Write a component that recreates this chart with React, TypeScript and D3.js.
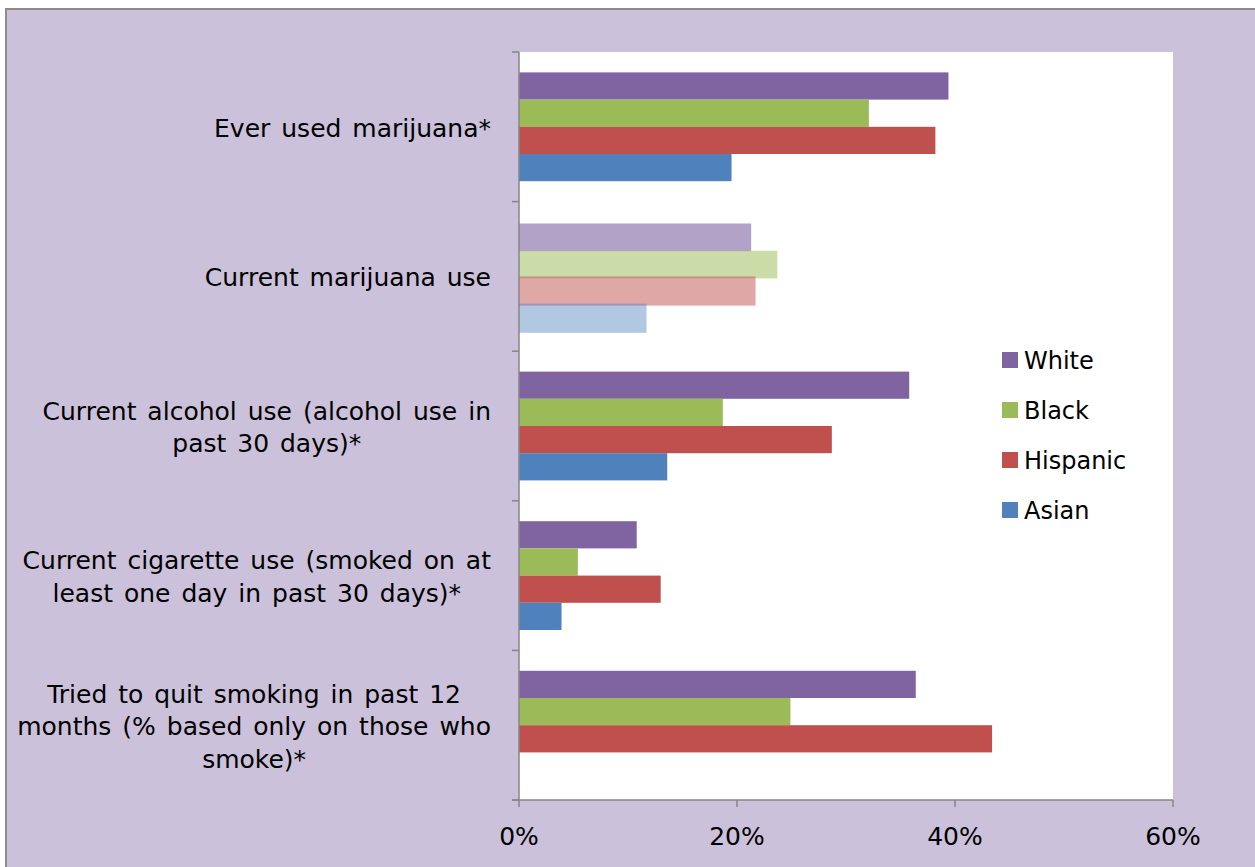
import React, { useEffect, useRef } from "react";
import * as d3 from "d3";

const categories = [
  ["Ever used marijuana*"],
  ["Current marijuana use"],
  ["Current alcohol use (alcohol use in", "past 30 days)*"],
  ["Current cigarette use (smoked on at", "least one day in past 30 days)*"],
  ["Tried to quit smoking in past 12", "months (% based only on those who", "smoke)*"],
];
const seriesNames = ["White", "Black", "Hispanic", "Asian"];
const whiteVals = [39.4, 21.3, 35.8, 10.8, 36.4];
const blackVals = [32.1, 23.7, 18.7, 5.4, 24.9];
const hispanicVals = [38.2, 21.7, 28.7, 13.0, 43.4];
const asianVals = [19.5, 11.7, 13.6, 3.9, null];
const fadedCategory = 1;
const xTicks = [0, 20, 40, 60];
const colors = ["#8064A2", "#9BBB59", "#C0504D", "#4F81BD"];
const fadedOpacity = [0.6, 0.52, 0.5, 0.44];

const W = 1255, H = 867;
const FONT = "'DejaVu Sans', Verdana, sans-serif";

export default function App() {
  const ref = useRef<SVGSVGElement>(null);
  useEffect(() => {
    const svg = d3.select(ref.current);
    svg.selectAll("*").remove();
    const left = 519, right = 1173, top = 52, bottom = 800;

    svg.append("rect").attr("x", 0).attr("y", 0).attr("width", W).attr("height", H).attr("fill", "#fff");
    svg.append("rect").attr("x", 6).attr("y", 9).attr("width", 1270).attr("height", 900)
      .attr("fill", "#CCC1DA").attr("stroke", "#8c8c8c").attr("stroke-width", 2);
    svg.append("rect").attr("x", left).attr("y", top).attr("width", right - left).attr("height", bottom - top).attr("fill", "#fff");

    const x = d3.scaleLinear().domain([0, 60]).range([left, right]);
    const y = d3.scaleBand<number>().domain(categories.map((_, i) => i)).range([top, bottom])
      .paddingInner(1.5 / 5.5).paddingOuter(0.75 / 5.5);
    const yi = d3.scaleBand<string>().domain(seriesNames).range([0, y.bandwidth()]);
    const all = [whiteVals, blackVals, hispanicVals, asianVals];

    const g = svg.append("g");
    categories.forEach((_, ci) => {
      seriesNames.forEach((s, si) => {
        const v = all[si][ci];
        if (v == null) return;
        const faded = ci === fadedCategory;
        const y0 = (y(ci) as number) + (yi(s) as number);
        const top0 = faded ? y0 + (si < 2 ? 1.5 : 0) : y0;
        const bot0 = faded ? y0 + yi.bandwidth() + 2 : y0 + yi.bandwidth();
        g.append("rect")
          .attr("x", x(0))
          .attr("y", top0)
          .attr("width", x(v) - x(0))
          .attr("height", bot0 - top0)
          .attr("fill", colors[si])
          .attr("fill-opacity", faded ? fadedOpacity[si] : 1);
      });
    });

    const axisColor = "#868686";
    svg.append("line").attr("x1", left).attr("x2", left).attr("y1", top).attr("y2", bottom)
      .attr("stroke", axisColor).attr("stroke-width", 1.5);
    const step = y.step();
    for (let i = 0; i <= categories.length; i++) {
      const yy = top + i * step;
      svg.append("line").attr("x1", left - 7).attr("x2", left).attr("y1", yy).attr("y2", yy)
        .attr("stroke", axisColor).attr("stroke-width", 1.5);
    }
    svg.append("line").attr("x1", left - 7).attr("x2", right).attr("y1", bottom).attr("y2", bottom)
      .attr("stroke", axisColor).attr("stroke-width", 1.5);
    xTicks.forEach((t) => {
      svg.append("line").attr("x1", x(t)).attr("x2", x(t)).attr("y1", bottom).attr("y2", bottom + 7)
        .attr("stroke", axisColor).attr("stroke-width", 1.5);
      svg.append("text").attr("x", x(t)).attr("y", 845).attr("text-anchor", "middle")
        .attr("font-family", FONT).attr("font-size", 25).attr("fill", "#000").text(`${t}%`);
    });

    const lh = 32.7;
    categories.forEach((lines, ci) => {
      const c = (y(ci) as number) + y.bandwidth() / 2;
      const texts = lines.map((ln, li) =>
        svg.append("text")
          .attr("y", c + 10 + (li - (lines.length - 1) / 2) * lh)
          .attr("text-anchor", "middle")
          .attr("font-family", FONT).attr("font-size", 25).attr("word-spacing", 3).attr("fill", "#000")
          .text(ln)
      );
      const maxW = d3.max(texts, (t) => (t.node() as SVGTextElement).getComputedTextLength()) || 0;
      texts.forEach((t) => t.attr("x", 491 - maxW / 2));
    });

    seriesNames.forEach((s, i) => {
      const cy = 360 + i * 50;
      svg.append("rect").attr("x", 1002).attr("y", cy - 8).attr("width", 16).attr("height", 16).attr("fill", colors[i]);
      svg.append("text").attr("x", 1024).attr("y", cy + 8.5).attr("font-family", FONT).attr("font-size", 24)
        .attr("fill", "#000").text(s);
    });
  }, []);
  return (
    <div style={{ position: "absolute", left: 0, top: 0 }}>
      <svg ref={ref} width={W} height={H} style={{ display: "block" }} />
    </div>
  );
}
